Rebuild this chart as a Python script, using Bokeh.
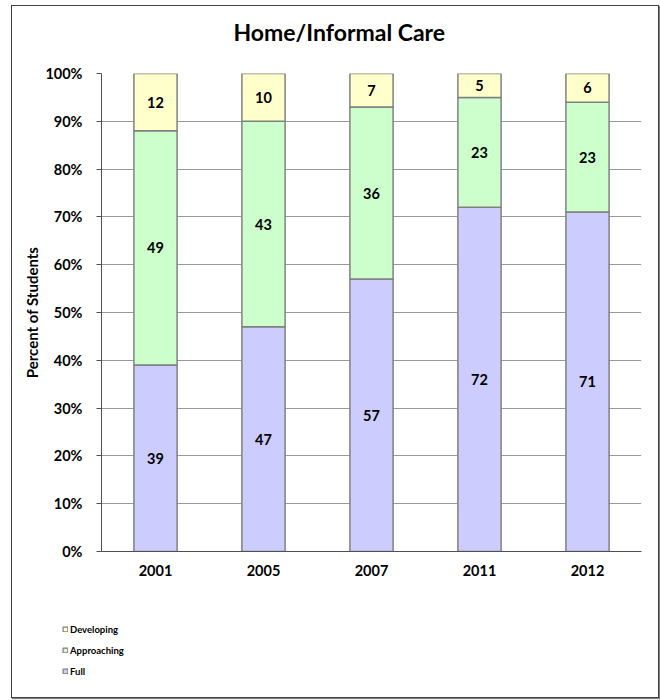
from bokeh.plotting import figure
from bokeh.models import ColumnDataSource, FixedTicker, LabelSet, Legend, LegendItem, Title
from bokeh.layouts import column
from bokeh.embed import file_html
from bokeh.resources import INLINE
from bokeh.core.properties import value

years = ["2001", "2005", "2007", "2011", "2012"]
full = [39, 47, 57, 72, 71]
approaching = [49, 43, 36, 23, 23]
developing = [12, 10, 7, 5, 6]
y_ticks = [0, 10, 20, 30, 40, 50, 60, 70, 80, 90, 100]
series = ["Full", "Approaching", "Developing"]
series_colors = ["#CCCCFF", "#CCFFCC", "#FFFFCC"]
chart_title = "Home/Informal Care"

FONT = "Lato"

src = ColumnDataSource(dict(
    years=years, Full=full, Approaching=approaching, Developing=developing,
    full_mid=[f / 2 for f in full],
    app_mid=[f + a / 2 for f, a in zip(full, approaching)],
    dev_mid=[f + a + d / 2 for f, a, d in zip(full, approaching, developing)],
    full_txt=[str(v) for v in full],
    app_txt=[str(v) for v in approaching],
    dev_txt=[str(v) for v in developing],
))

# title panel
tf = figure(width=646, height=55, output_backend="svg", toolbar_location=None,
            x_axis_type=None, y_axis_type=None,
            min_border=0, min_border_left=0, min_border_right=0,
            min_border_top=0, min_border_bottom=0)
tf.outline_line_color = None
tf.frame_align = False
tf.xgrid.visible = False
tf.ygrid.visible = False
tf.title = Title(text=chart_title, align="left", vertical_align="top", text_font=FONT,
                 text_font_size="23px", text_font_style="bold", text_color="#000000",
                 offset=221, standoff=28)

p = figure(x_range=years, y_range=(0, 100), width=646, height=539,
           output_backend="svg", toolbar_location=None,
           min_border_left=89, min_border_right=17, min_border_top=12, min_border_bottom=49)
p.outline_line_color = None
p.frame_align = False

rs = p.vbar_stack(series, x="years", width=0.4, source=src,
                  fill_color=series_colors, line_color="#808080", line_width=1.5)

for ycol, tcol in [("full_mid", "full_txt"), ("app_mid", "app_txt"), ("dev_mid", "dev_txt")]:
    p.add_layout(LabelSet(x="years", y=ycol, text=tcol, source=src, text_align="center",
                          text_baseline="middle", text_font=value(FONT), text_font_size="14.5px",
                          text_font_style="bold", text_color="#000000"))

# axes
p.yaxis.ticker = FixedTicker(ticks=y_ticks)
p.yaxis.major_label_overrides = {t: f"{t}%" for t in y_ticks}
p.yaxis.minor_tick_line_color = None
p.yaxis.major_tick_in = 0
p.yaxis.major_tick_out = 5
p.yaxis.axis_line_color = "#505050"
p.yaxis.major_tick_line_color = "#505050"
p.yaxis.major_label_text_font = FONT
p.yaxis.major_label_text_font_size = "14.5px"
p.yaxis.major_label_text_font_style = "bold"
p.yaxis.major_label_text_color = "#000000"
p.yaxis.major_label_standoff = 14
p.yaxis.axis_label = "Percent of Students"
p.yaxis.axis_label_text_font = FONT
p.yaxis.axis_label_text_font_size = "15px"
p.yaxis.axis_label_text_font_style = "bold"
p.yaxis.axis_label_text_color = "#000000"
p.yaxis.axis_label_standoff = 1

p.xaxis.axis_line_color = "#505050"
p.xaxis.major_tick_line_color = None
p.xaxis.major_tick_out = 0
p.xaxis.major_tick_in = 0
p.xaxis.major_label_text_font = FONT
p.xaxis.major_label_text_font_size = "14.5px"
p.xaxis.major_label_text_font_style = "bold"
p.xaxis.major_label_text_color = "#000000"
p.xaxis.major_label_standoff = 13

p.xgrid.grid_line_color = None
p.ygrid.grid_line_color = "#999999"
p.ygrid.ticker = FixedTicker(ticks=y_ticks)

# legend panel (bars drawn off-view so only the legend shows)
lf = figure(x_range=years, y_range=(200, 300), width=646, height=97,
            output_backend="svg", toolbar_location=None,
            x_axis_type=None, y_axis_type=None,
            min_border=0, min_border_left=0, min_border_right=0,
            min_border_top=0, min_border_bottom=0)
lf.outline_line_color = None
lf.frame_align = False
lf.xgrid.visible = False
lf.ygrid.visible = False
lrs = lf.vbar_stack(series, x="years", width=0.4, source=src,
                    fill_color=series_colors, line_color="#808080", line_width=1.2)

legend = Legend(items=[LegendItem(label="Developing", renderers=[lrs[2]]),
                       LegendItem(label="Approaching", renderers=[lrs[1]]),
                       LegendItem(label="Full", renderers=[lrs[0]])],
                location=(50, 20), orientation="vertical",
                padding=0, margin=0, spacing=9, glyph_width=6, glyph_height=6,
                label_height=12, label_standoff=2,
                label_text_font=FONT, label_text_font_size="9.5px", label_text_font_style="bold",
                label_text_color="#000000",
                background_fill_alpha=0, border_line_color=None)
lf.add_layout(legend, "center")

layout = column(tf, p, lf, spacing=0,
                styles={"margin-left": "11px", "margin-top": "5px",
                        "border": "1px solid #404040",
                        "box-shadow": "1px 1px 1px #808080"})

open("out.html", "w").write(file_html(layout, INLINE))
